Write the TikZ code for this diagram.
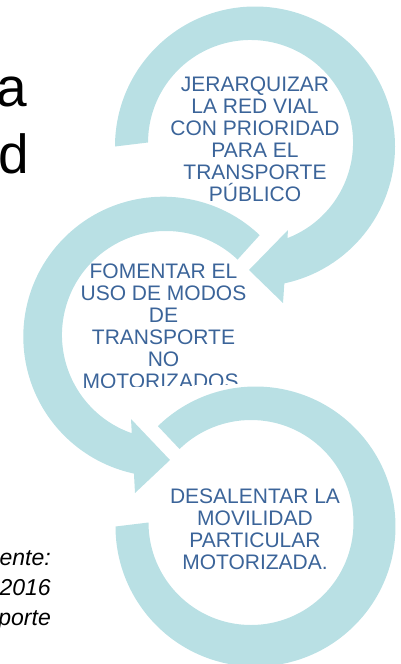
\documentclass[tikz,border=0pt]{standalone}
\usepackage{fontspec}
\setmainfont{Liberation Sans}
\definecolor{ring}{HTML}{B9E0E4}
\definecolor{ringtext}{HTML}{3B6499}
\begin{document}
\begin{tikzpicture}[x=1pt,y=-1pt,
  ringfill/.style={fill=ring, draw=none},
  ringlabel/.style={text=ringtext, font=\fontsize{21}{22}\selectfont, align=center, inner sep=0pt, anchor=base},
  sidetext/.style={font=\fontsize{55}{66}\selectfont, inner sep=0pt, anchor=base west},
  srctext/.style={font=\itshape\fontsize{23}{30}\selectfont, inner sep=0pt, anchor=base east}]
\useasboundingbox (0,0) rectangle (401,664);
\clip (0,0) rectangle (401,664);
% ring 1
\fill[ringfill] (255,146.5) ++(180:140) arc[start angle=180, end angle=437.9, radius=140]
  -- (283,303) -- (249,270) -- (288,230) -- (287.44,238.11)
  arc[start angle=428.9, end angle=180, radius=102.5] -- cycle;
% ring 2
\fill[ringfill] (163.3,336.7) ++(-46.5:140) arc[start angle=-46.5, end angle=-257.9, radius=140]
  -- (135,493) -- (170,460) -- (131,419) -- (131.77,433.2)
  arc[start angle=-250.8, end angle=-46.5, radius=104] -- cycle;
% ring 3
\fill[ringfill] (255.5,526.5) ++(225.8:140) arc[start angle=225.8, end angle=540, radius=140]
  -- (148.5,522.5) arc[start angle=540, end angle=225.8, radius=102.5] -- cycle;
% labels
\node[ringlabel] (t1) at (255,201) {JERARQUIZAR\\LA RED VIAL\\CON PRIORIDAD\\PARA EL\\TRANSPORTE\\PÚBLICO};
\begin{scope}
\clip (60,250) -- (262,250) -- (262,383) -- (60,389) -- cycle;
\node[ringlabel] (t2) at (163.5,388.7) {FOMENTAR EL\\USO DE MODOS\\DE\\TRANSPORTE\\NO\\MOTORIZADOS.};
\end{scope}
\node[ringlabel] (t3) at (255,569) {DESALENTAR LA\\MOVILIDAD\\PARTICULAR\\MOTORIZADA.};
\node[sidetext] (la) at (-4.2,106) {a};
\node[sidetext] (ld) at (-1.5,173) {d};
\node[srctext] (s1) at (51,565) {ente:};
\node[srctext] (s2) at (51,595) {2016};
\node[srctext] (s3) at (51,625) {porte};
\end{tikzpicture}
\end{document}
